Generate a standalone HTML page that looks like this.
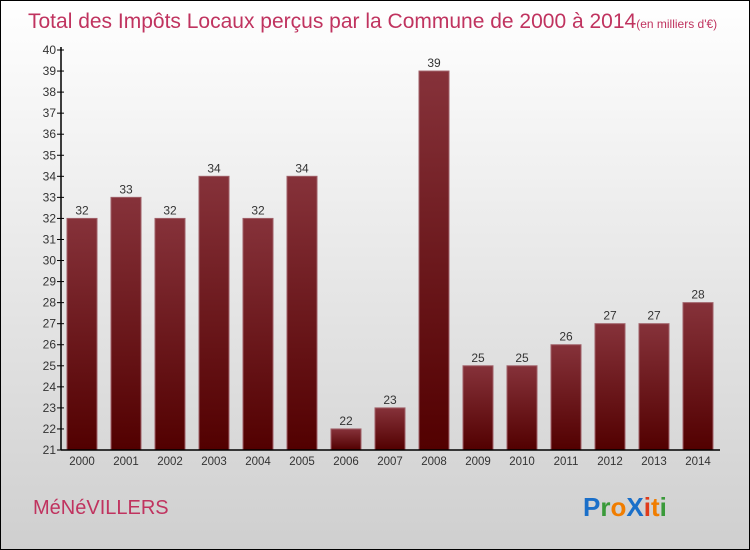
<!DOCTYPE html>
<html><head><meta charset="utf-8"><style>
body{margin:0}
#c{width:750px;height:550px;position:relative;overflow:hidden}
svg{font-family:"Liberation Sans",sans-serif}
</style></head><body>
<div id="c">
<svg id="s" width="750" height="550" xmlns="http://www.w3.org/2000/svg">
<defs>
<linearGradient id="bg" x1="0" y1="0" x2="0" y2="1"><stop offset="0" stop-color="#ffffff"/><stop offset="1" stop-color="#cfcfcf"/></linearGradient>
<linearGradient id="bar" x1="0" y1="0" x2="0" y2="1"><stop offset="0" stop-color="#86323a"/><stop offset="1" stop-color="#520000"/></linearGradient>
</defs>
<rect x="0.5" y="0.5" width="749" height="549" fill="url(#bg)" stroke="#000"/>
<text x="28" y="28" font-size="21" fill="#c0335f">Total des Impôts Locaux perçus par la Commune de 2000 à 2014<tspan font-size="12">(en milliers d'€)</tspan></text>
<text x="33" y="514" font-size="20" fill="#c0335f">MéNéVILLERS</text>
<g font-size="26" font-weight="bold">
<text x="583" y="516"><tspan fill="#1a6fc9">P</tspan><tspan fill="#3a9a3a">r</tspan><tspan fill="#f07d00">o</tspan><tspan fill="#1a6fc9">X</tspan><tspan fill="#e03a1a">i</tspan><tspan fill="#f07d00">t</tspan><tspan fill="#3a9a3a">i</tspan></text>
</g>
<g id="plot"></g>
</svg>
</div>
<script>
const years=["2000","2001","2002","2003","2004","2005","2006","2007","2008","2009","2010","2011","2012","2013","2014"];
const values=[32,33,32,34,32,34,22,23,39,25,25,26,27,27,28];
const yTicks=[21,22,23,24,25,26,27,28,29,30,31,32,33,34,35,36,37,38,39,40];
const yMin=21,yMax=40,y0=450,y1=50,axX=61;
const y=v=>y0-(v-yMin)*(y0-y1)/(yMax-yMin);
const x=i=>82+i*44;
const NS="http://www.w3.org/2000/svg";
const g=document.getElementById('plot');
function el(t,a,txt){const e=document.createElementNS(NS,t);for(const k in a)e.setAttribute(k,a[k]);if(txt!==undefined)e.textContent=txt;g.appendChild(e);return e;}
values.forEach((v,i)=>{
 const r=el('rect',{x:x(i)-15,y:y(v),width:30,height:y0-y(v),fill:'url(#bar)',stroke:'#a06068','stroke-width':1});
 
 
 const t=el('text',{x:x(i),y:y(v)-4,'text-anchor':'middle','font-size':12,fill:'#333'},String(v));
 
 
 const xl=el('text',{x:x(i),y:y0+15,'text-anchor':'middle','font-size':11.5,fill:'#333'},years[i]);
 
 
});
yTicks.forEach(v=>{
 const l=el('line',{x1:axX-4,x2:axX+3,y1:y(v),y2:y(v),stroke:'#000'});
 
 
 const t=el('text',{x:axX-5,y:y(v)+4,'text-anchor':'end','font-size':12,fill:'#333'},String(v));
 
 
});
const ya=el('line',{x1:axX,x2:axX,y1:y1-3,y2:y0,stroke:'#000','stroke-width':1.5});


const xa=el('line',{x1:axX,x2:720,y1:y0,y2:y0,stroke:'#000','stroke-width':1.5});


</script>
</body></html>
